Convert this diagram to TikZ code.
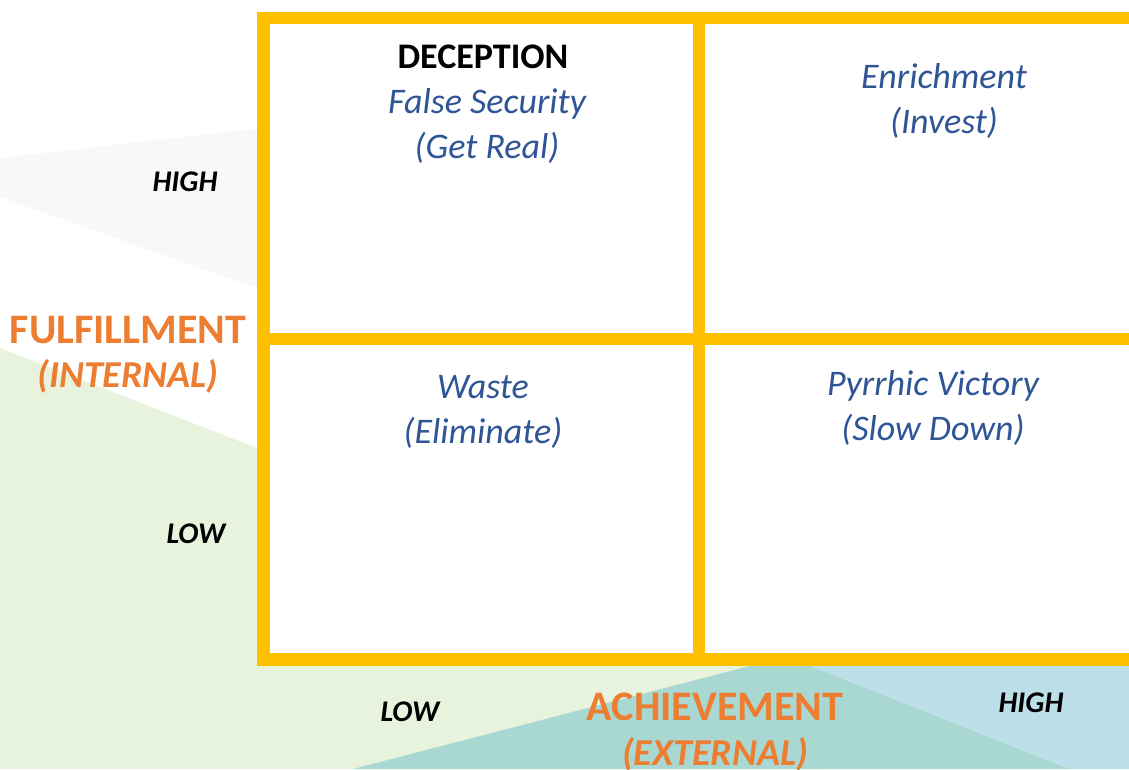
\documentclass[tikz,border=0pt]{standalone}
\usepackage{fontspec}
\setmainfont{Carlito}
\usepackage{tikz}

\definecolor{frameyellow}{HTML}{FFC000}
\definecolor{quadblue}{HTML}{2F5597}
\definecolor{axisorange}{HTML}{ED7D31}
\definecolor{bggreen}{HTML}{E7F3DC}
\definecolor{bgblue}{HTML}{BCDFE9}
\definecolor{bgteal}{HTML}{A9D8D3}
\definecolor{bggray}{HTML}{F8F8F8}

\begin{document}
\begin{tikzpicture}[x=1pt,y=-1pt,
    quad/.style={anchor=base,text=quadblue,font=\fontsize{36}{43}\selectfont\itshape},
    axis/.style={anchor=base,text=axisorange,font=\fontsize{42}{50}\selectfont\bfseries},
    axissub/.style={anchor=base,text=axisorange,font=\fontsize{38}{46}\selectfont\bfseries\itshape},
    level/.style={anchor=base,font=\fontsize{30}{36}\selectfont\bfseries\itshape}]
    \useasboundingbox (0,0) rectangle (1129,769);
    \clip (0,0) rectangle (1129,769);

    % background bands
    \fill[bggray] (0,158) -- (262,128) -- (262,290) -- (0,197) -- cycle;
    \fill[bggreen] (0,348) -- (262,450) -- (262,662) -- (820,662) -- (820,769) -- (0,769) -- cycle;
    \fill[bgblue] (800,662) -- (1140,662) -- (1140,769) -- (1070,769) -- cycle;
    \fill[bgteal] (353,769) -- (765,662) -- (800,662) -- (1070,769) -- cycle;

    % the four quadrants
    \fill[white] (263.5,18) rectangle (1150,659.5);
    \draw[frameyellow,line width=12.5pt] (263.5,18) rectangle (1150,659.5);
    \draw[frameyellow,line width=12.5pt] (699,18) -- (699,659.5);
    \draw[frameyellow,line width=12.5pt] (263.5,339) -- (1150,339);

    % quadrant texts
    \node[anchor=base,font=\fontsize{36}{43}\selectfont\bfseries] (dec) at (483,68) {DECEPTION};
    \node[quad] (dec1) at (487,113) {False Security};
    \node[quad] (dec2) at (487,158) {(Get Real)};
    \node[quad] (enr1) at (944,88) {Enrichment};
    \node[quad] (enr2) at (944,133) {(Invest)};
    \node[quad] (was1) at (483,398) {Waste};
    \node[quad] (was2) at (483,443) {(Eliminate)};
    \node[quad] (pyr1) at (933,395) {Pyrrhic Victory};
    \node[quad] (pyr2) at (933,440) {(Slow Down)};

    % axes
    \node[axis] (ful) at (128,343) {FULFILLMENT};
    \node[axissub] (int) at (128,387) {(INTERNAL)};
    \node[level] (fhigh) at (185,191) {HIGH};
    \node[level] (flow) at (196,543) {LOW};
    \node[axis] (ach) at (715,720) {ACHIEVEMENT};
    \node[axissub] (ext) at (715,765) {(EXTERNAL)};
    \node[level] (alow) at (410,721) {LOW};
    \node[level] (ahigh) at (1031,712) {HIGH};
\end{tikzpicture}
\end{document}
